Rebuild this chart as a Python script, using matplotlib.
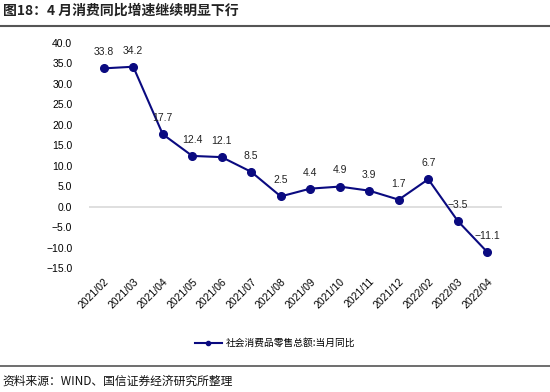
import matplotlib
matplotlib.use("Agg")
import matplotlib.pyplot as plt
from matplotlib.lines import Line2D

plt.rcParams['font.family'] = ['Noto Sans CJK SC', 'DejaVu Sans']
num_font = ['Liberation Sans', 'DejaVu Sans']

months = ["2021/02", "2021/03", "2021/04", "2021/05", "2021/06", "2021/07", "2021/08",
          "2021/09", "2021/10", "2021/11", "2021/12", "2022/02", "2022/03", "2022/04"]
retail_yoy = [33.8, 34.2, 17.7, 12.4, 12.1, 8.5, 2.5, 4.4, 4.9, 3.9, 1.7, 6.7, -3.5, -11.1]
series_name = "社会消费品零售总额:当月同比"
title = "图18：4 月消费同比增速继续明显下行"
source = "资料来源：WIND、国信证券经济研究所整理"

navy = "#0a0a80"

fig = plt.figure(figsize=(5.5, 3.92), dpi=100)
ax = fig.add_axes([89 / 550, 1 - 268 / 392, (502 - 89) / 550, (268 - 43) / 392])

x = list(range(len(months)))
ax.plot(x, retail_yoy, color=navy, lw=1.5, marker="o", ms=5.5, zorder=3)
for xi, v in zip(x, retail_yoy):
    ax.annotate(f"{v:.1f}".replace("-", "\u2212"), (xi, v), xytext=(0, 8),
                textcoords="offset points", ha="center", va="bottom", fontsize=7.5,
                color="#222222", family=num_font)

ax.axhline(0, color="#d9d9d9", lw=1.2, zorder=1)
ax.set_ylim(-15, 40)
ax.set_yticks(range(-15, 41, 5))
ax.set_yticklabels([f"{t:.1f}".replace("-", "\u2212") for t in range(-15, 41, 5)],
                   fontsize=7.5, family=num_font)
ax.set_xlim(-0.5, len(months) - 0.5)
ax.set_xticks(x)
ax.set_xticklabels(months, rotation=45, ha="right", rotation_mode="anchor", fontsize=7.5,
                   family=num_font)
ax.tick_params(axis="y", length=0, pad=12)
ax.tick_params(axis="x", length=0, pad=6)
for s in ax.spines.values():
    s.set_visible(False)

handle = Line2D([], [], color=navy, lw=1.5, marker="o", ms=3)
fig.legend([handle], [series_name], loc="center", bbox_to_anchor=(0.5, 1 - 343 / 392),
           frameon=False, fontsize=7, handlelength=2.8, handletextpad=0.4)

fig.text(0.005, 1 - 11 / 392, title, fontsize=10, fontweight="bold", va="center", ha="left",
         color="#222222")
fig.add_artist(Line2D([0, 1], [1 - 26 / 392, 1 - 26 / 392], color="#555555", lw=1.5))
fig.add_artist(Line2D([0, 1], [1 - 366 / 392, 1 - 366 / 392], color="#555555", lw=1.2))
fig.text(0.005, 1 - 381 / 392, source, fontsize=8.5, va="center", ha="left", color="#111111")

fig.savefig("out.png", dpi=100)
